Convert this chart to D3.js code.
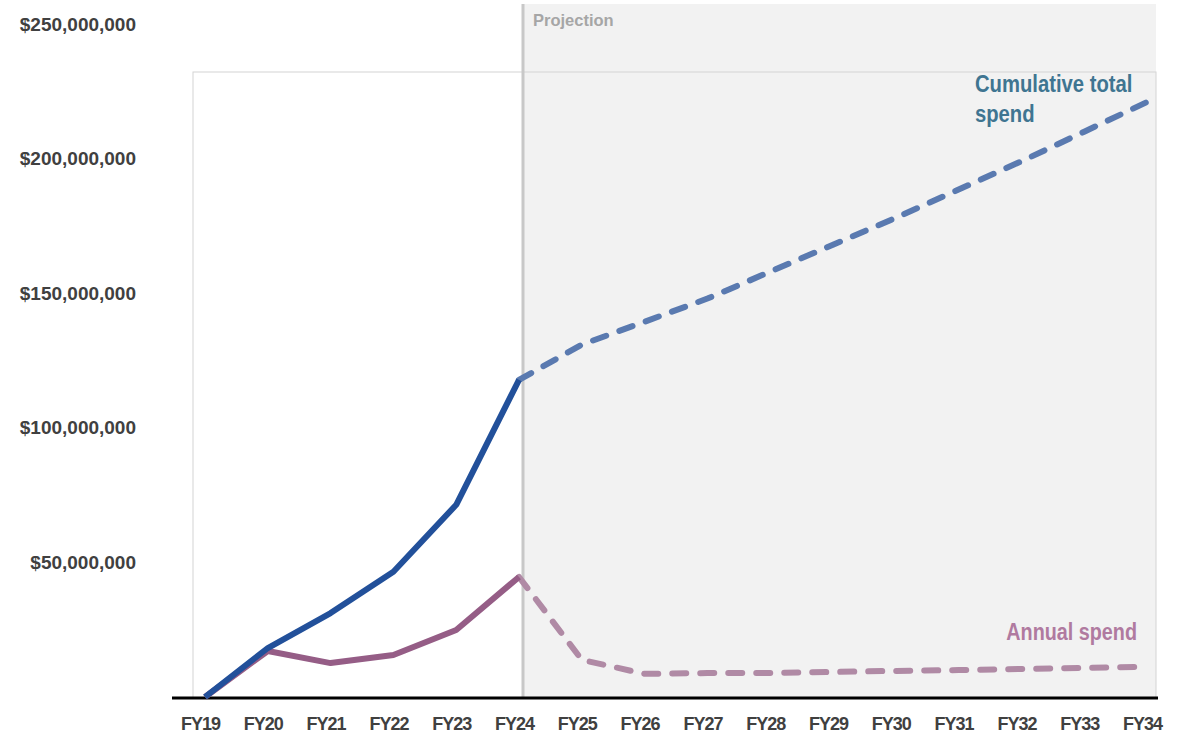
<!DOCTYPE html>
<html>
<head>
<meta charset="utf-8">
<script src="https://cdn.jsdelivr.net/npm/d3@7"></script>
<style>
  body { margin: 0; background: #fff; }
  text { font-family: "Liberation Sans", Arial, sans-serif; font-weight: bold; }
</style>
</head>
<body>
<div id="chart"></div>
<script>
const YEARS = ["FY19", "FY20", "FY21", "FY22", "FY23", "FY24", "FY25", "FY26",
    "FY27", "FY28", "FY29", "FY30", "FY31", "FY32", "FY33", "FY34"];

// values in millions of dollars
const CUMULATIVE = [0, 18.2, 31.2, 46.5, 71.4, 117.8, 130.9, 139.4,
    148, 158, 168, 178, 188.5, 199, 210, 221];
const ANNUAL = [0, 17.1, 12.6, 15.6, 24.9, 44.6, 13.8, 8.6,
    8.9, 8.9, 9.3, 9.7, 10.0, 10.4, 10.8, 11.2];

const LAST_ACTUAL = "FY24";
const Y_TICKS = [50, 100, 150, 200, 250];

const width = 1195, height = 737;
const plot = { left: 193, right: 1156, top: 72, bottom: 698 };

const svg = d3.select("#chart")
    .append("svg")
    .attr("width", width)
    .attr("height", height);

const x = d3.scalePoint()
    .domain(YEARS)
    .range([205, 1147]);

const y = d3.scaleLinear()
    .domain([0, 250])
    .range([697, 24]);

const splitIdx = YEARS.indexOf(LAST_ACTUAL);

// projection shading
svg.append("rect")
    .attr("x", x(LAST_ACTUAL) + 4)
    .attr("y", 4)
    .attr("width", plot.right - x(LAST_ACTUAL) - 4)
    .attr("height", plot.bottom - 4)
    .attr("fill", "#f2f2f2");

// plot frame
svg.append("rect")
    .attr("x", plot.left)
    .attr("y", plot.top)
    .attr("width", plot.right - plot.left)
    .attr("height", plot.bottom - plot.top)
    .attr("fill", "none")
    .attr("stroke", "#d4d4d4")
    .attr("stroke-width", 1);

svg.append("line")
    .attr("x1", x(LAST_ACTUAL) + 4)
    .attr("x2", x(LAST_ACTUAL) + 4)
    .attr("y1", 4)
    .attr("y2", plot.bottom)
    .attr("stroke", "#c8c8c8")
    .attr("stroke-width", 3);

svg.append("text")
    .attr("x", x(LAST_ACTUAL) + 14)
    .attr("y", 26)
    .style("font-size", "16.5px")
    .attr("fill", "#a6a6a6")
    .text("Projection");

// y axis labels
svg.append("g")
    .attr("transform", "translate(136,0)")
    .call(d3.axisLeft(y)
        .tickValues(Y_TICKS)
        .tickSize(0)
        .tickPadding(0)
        .tickFormat(d => "$" + d3.format(",")(d * 1e6)))
    .call(g => g.select(".domain").remove())
    .selectAll("text")
    .style("font-size", "19px")
    .style("font-family", "'Liberation Sans', Arial, sans-serif")
    .attr("fill", "#404040");

// x axis
svg.append("g")
    .attr("transform", `translate(0,${plot.bottom})`)
    .call(d3.axisBottom(x).tickSize(0).tickPadding(19))
    .call(g => g.select(".domain").remove())
    .selectAll("text")
    .attr("dx", -5)
    .style("font-size", "18px")
    .style("letter-spacing", "-1px")
    .style("font-family", "'Liberation Sans', Arial, sans-serif")
    .attr("fill", "#404040");

svg.append("line")
    .attr("x1", 172)
    .attr("x2", 1158)
    .attr("y1", plot.bottom)
    .attr("y2", plot.bottom)
    .attr("stroke", "#000")
    .attr("stroke-width", 3);

const line = d3.line()
    .x(d => x(d.year))
    .y(d => y(d.value));

const toPoints = arr => arr.map((v, i) => ({ year: YEARS[i], value: v }));

const series = [
    { name: "annual", values: toPoints(ANNUAL), actual: "#955d86", proj: "#b08aa5" },
    { name: "cumulative", values: toPoints(CUMULATIVE), actual: "#22509a", proj: "#5a7ab0" }
];

series.forEach(s => {
    svg.append("path")
        .attr("d", line(s.values.slice(splitIdx)))
        .attr("fill", "none")
        .attr("stroke", s.proj)
        .attr("stroke-width", 6)
        .attr("stroke-linecap", "round")
        .attr("stroke-dasharray", "14,14");

    svg.append("path")
        .attr("d", line(s.values.slice(0, splitIdx + 1)))
        .attr("fill", "none")
        .attr("stroke", s.actual)
        .attr("stroke-width", 6)
        .attr("stroke-linejoin", "round");
});

// series labels (condensed look via horizontal scaling)
const cumLabel = svg.append("text")
    .attr("transform", "translate(975,92) scale(0.88,1)")
    .style("font-size", "23px")
    .attr("fill", "#3f7591");
cumLabel.append("tspan").attr("x", 0).text("Cumulative total");
cumLabel.append("tspan").attr("x", 0).attr("dy", 30).text("spend");

svg.append("text")
    .attr("transform", "translate(1137,640) scale(0.86,1)")
    .attr("text-anchor", "end")
    .style("font-size", "23px")
    .attr("fill", "#b07aa0")
    .text("Annual spend");
</script>
</body>
</html>
